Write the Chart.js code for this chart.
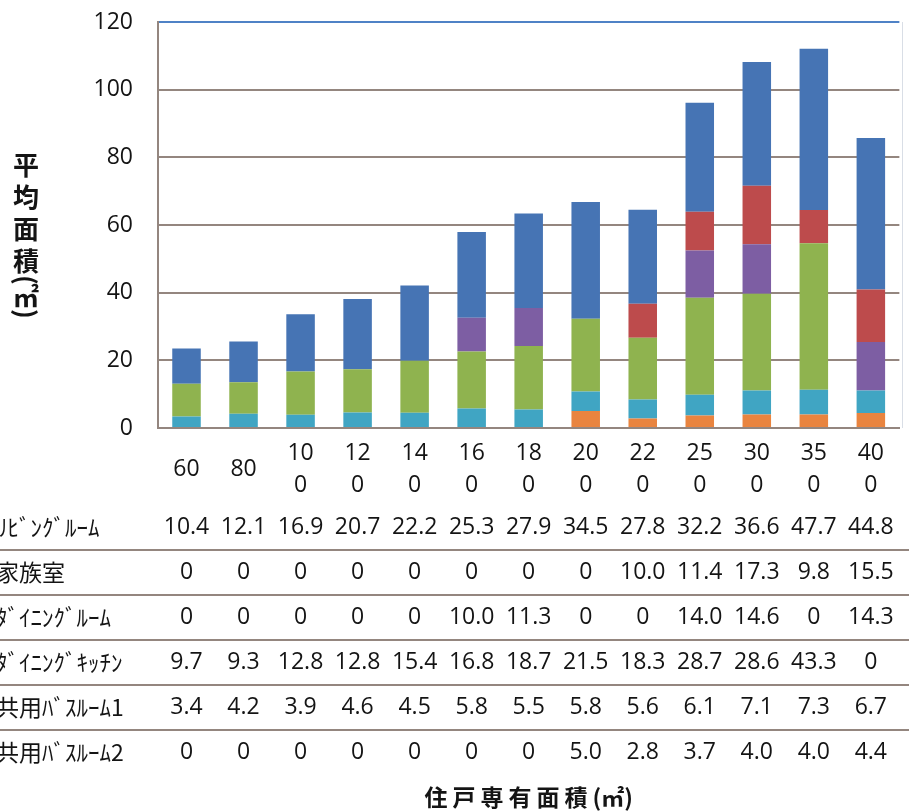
<!DOCTYPE html>
<html lang="ja">
<head>
<meta charset="utf-8">
<title>住戸専有面積別 平均面積</title>
<script src="https://cdn.jsdelivr.net/npm/chart.js@4/dist/chart.umd.min.js"></script>
<style>
  html, body { margin: 0; padding: 0; background: #ffffff; }
  canvas { display: block; }
</style>
</head>
<body>
<canvas id="chart" width="909" height="812"></canvas>
<script>
// 住戸専有面積 (㎡)
const categories = ['60', '80', '100', '120', '140', '160', '180', '200', '220', '250', '300', '350', '400'];

// 室ごとの平均面積 (㎡)
const livingRoom   = [10.4, 12.1, 16.9, 20.7, 22.2, 25.3, 27.9, 34.5, 27.8, 32.2, 36.6, 47.7, 44.8];
const familyRoom   = [0, 0, 0, 0, 0, 0, 0, 0, 10.0, 11.4, 17.3, 9.8, 15.5];
const diningRoom   = [0, 0, 0, 0, 0, 10.0, 11.3, 0, 0, 14.0, 14.6, 0, 14.3];
const diningKitchen = [9.7, 9.3, 12.8, 12.8, 15.4, 16.8, 18.7, 21.5, 18.3, 28.7, 28.6, 43.3, 0];
const bathroom1    = [3.4, 4.2, 3.9, 4.6, 4.5, 5.8, 5.5, 5.8, 5.6, 6.1, 7.1, 7.3, 6.7];
const bathroom2    = [0, 0, 0, 0, 0, 0, 0, 5.0, 2.8, 3.7, 4.0, 4.0, 4.4];

const seriesNames = ['ﾘﾋﾞﾝｸﾞﾙｰﾑ', '家族室', 'ﾀﾞｲﾆﾝｸﾞﾙｰﾑ', 'ﾀﾞｲﾆﾝｸﾞｷｯﾁﾝ', '共用ﾊﾞｽﾙｰﾑ1', '共用ﾊﾞｽﾙｰﾑ2'];
const yTicks = [0, 20, 40, 60, 80, 100, 120];
const yTitle = ['平', '均', '面', '積', '(', '㎡', ')'];
const xTitleMain = '住戸専有面積';
const xTitleUnit = '(㎡)';

// colours
const COLORS = {
  living: '#4674b4',
  family: '#bd4b4c',
  dining: '#7d5ea3',
  kitchen: '#8fb34f',
  bath1: '#40a5c3',
  bath2: '#e9843f'
};
const GRID = '#94867f';
const TOP_LINE = '#4f82c6';
const TEXT = '#141414';
const NUM_FONT = '"Open Sans", "Liberation Sans", sans-serif';
const JP_FONT = '"Noto Sans CJK JP", sans-serif';

// rows of the data table, top to bottom
const tableRows = [
  { name: seriesNames[0], values: livingRoom },
  { name: seriesNames[1], values: familyRoom },
  { name: seriesNames[2], values: diningRoom },
  { name: seriesNames[3], values: diningKitchen },
  { name: seriesNames[4], values: bathroom1 },
  { name: seriesNames[5], values: bathroom2 }
];
const ROW0 = 527;   // centre of the first table row
const ROW_H = 45;   // table row pitch

const fmt = v => (v === 0 ? '0' : v.toFixed(1));
const wrapLabel = s => (s.length > 2 ? [s.slice(0, 2), s.slice(2)] : s);

const tableAndTitles = {
  id: 'tableAndTitles',
  afterDraw(chart) {
    const { ctx, chartArea } = chart;
    const xs = chart.scales.x;
    ctx.save();

    // plot-area right edge
    ctx.strokeStyle = '#d9dee6';
    ctx.lineWidth = 1;
    ctx.beginPath();
    ctx.moveTo(902.5, chartArea.top);
    ctx.lineTo(902.5, chartArea.bottom);
    ctx.stroke();

    // row separators
    ctx.strokeStyle = GRID;
    ctx.lineWidth = 2;
    for (let r = 0; r < tableRows.length - 1; r++) {
      const y = Math.round(ROW0 + ROW_H * (r + 0.5));
      ctx.beginPath();
      ctx.moveTo(0, y);
      ctx.lineTo(chart.width, y);
      ctx.stroke();
    }

    // row headers
    ctx.fillStyle = TEXT;
    ctx.textBaseline = 'middle';
    ctx.textAlign = 'left';
    ctx.font = '23px ' + JP_FONT;
    tableRows.forEach((row, r) => ctx.fillText(row.name, -4, ROW0 + ROW_H * r));

    // values
    ctx.textAlign = 'center';
    ctx.font = '23px ' + NUM_FONT;
    tableRows.forEach((row, r) => {
      row.values.forEach((v, i) => {
        ctx.fillText(fmt(v), xs.getPixelForValue(i), ROW0 + ROW_H * r);
      });
    });

    // x-axis title
    ctx.font = 'bold 23px ' + JP_FONT;
    ctx.textAlign = 'left';
    ctx.letterSpacing = '5px';
    const wMain = ctx.measureText(xTitleMain).width;
    ctx.letterSpacing = '0px';
    const wUnit = ctx.measureText(xTitleUnit).width;
    const tx = (chartArea.left + chartArea.right) / 2 - (wMain + wUnit) / 2;
    ctx.letterSpacing = '5px';
    ctx.fillText(xTitleMain, tx, 797);
    ctx.letterSpacing = '0px';
    ctx.fillText(xTitleUnit, tx + wMain, 797);

    // y-axis title, written top to bottom
    ctx.textAlign = 'center';
    ctx.font = 'bold 26px ' + JP_FONT;
    const yPos = [165, 197, 229, 261, 280, 297, 314];
    yTitle.forEach((ch, i) => {
      ctx.save();
      ctx.translate(26, yPos[i]);
      if (ch === '(' || ch === ')') ctx.rotate(Math.PI / 2);
      ctx.fillText(ch, 0, 0);
      ctx.restore();
    });

    ctx.restore();
  }
};

const dataset = (label, data, color) => ({
  label, data,
  backgroundColor: color,
  borderWidth: 0,
  barPercentage: 0.5,
  categoryPercentage: 1.0
});

new Chart(document.getElementById('chart'), {
  type: 'bar',
  data: {
    labels: categories,
    datasets: [
      dataset(seriesNames[5], bathroom2, COLORS.bath2),
      dataset(seriesNames[4], bathroom1, COLORS.bath1),
      dataset(seriesNames[3], diningKitchen, COLORS.kitchen),
      dataset(seriesNames[2], diningRoom, COLORS.dining),
      dataset(seriesNames[1], familyRoom, COLORS.family),
      dataset(seriesNames[0], livingRoom, COLORS.living)
    ]
  },
  options: {
    responsive: false,
    animation: false,
    events: [],
    layout: { padding: { top: 22, right: 0, bottom: 0, left: 0 } },
    plugins: { legend: { display: false }, tooltip: { enabled: false } },
    scales: {
      x: {
        stacked: true,
        grid: { display: false, drawTicks: false },
        border: { display: true, color: GRID, width: 2 },
        ticks: {
          color: TEXT,
          font: { family: NUM_FONT, size: 23, lineHeight: 1.39 },
          padding: 25,
          crossAlign: 'center',
          maxRotation: 0,
          autoSkip: false,
          callback: (v, i) => wrapLabel(categories[i])
        },
        afterFit: s => { s.height = 384; }
      },
      y: {
        stacked: true,
        min: yTicks[0],
        max: yTicks[yTicks.length - 1],
        afterBuildTicks: s => { s.ticks = yTicks.map(v => ({ value: v })); },
        ticks: {
          color: TEXT,
          font: { family: NUM_FONT, size: 23 },
          padding: 25
        },
        grid: {
          color: c => (c.tick && c.tick.value === 120 ? TOP_LINE : GRID),
          lineWidth: 2,
          drawTicks: false
        },
        border: { color: GRID, width: 2 },
        afterFit: s => { s.width = 158; s.paddingTop = 0; s.paddingBottom = 0; }
      }
    }
  },
  plugins: [tableAndTitles]
});
</script>
</body>
</html>
